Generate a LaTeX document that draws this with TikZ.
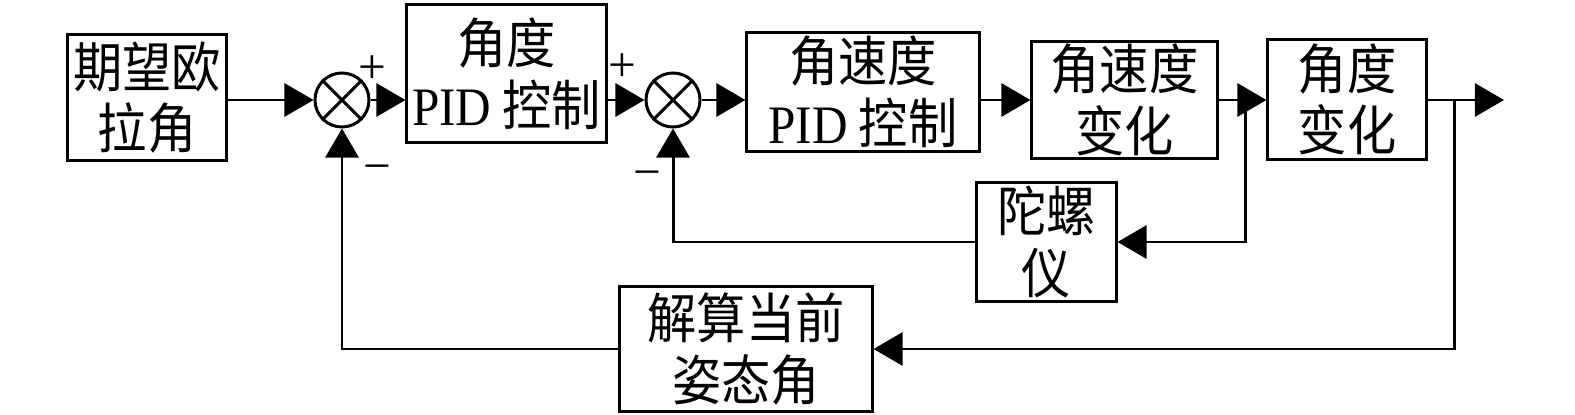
\documentclass[tikz,border=0pt]{standalone}
\usepackage{fontspec}
\usepackage{graphicx}
\setmainfont{Liberation Serif}
\newfontfamily\cjk{Noto Sans CJK SC}
\newcommand{\stz}[1]{\scalebox{1}[1.1]{#1}}
\usetikzlibrary{arrows.meta}
\begin{document}
\begin{tikzpicture}[x=0.01cm,y=-0.01cm, line width=0.85pt,
 box/.style={draw, inner sep=0pt, align=center, font=\fontsize{14pt}{17.5pt}\selectfont\cjk},
 sumnode/.style={draw, circle, minimum size=0.54cm, inner sep=0pt},
 arr/.style={-{Triangle[length=2.9mm,width=3.3mm]}},
 sign/.style={inner sep=0pt, font=\fontsize{14pt}{14pt}\selectfont}]
\useasboundingbox (0,0) rectangle (1575,415);
\node[box, minimum width=1.58cm, minimum height=1.25cm] (A) at (147,97.5) {\stz{期望欧}\\\stz{拉角}};
\node[sumnode] (s1) at (342,100) {};
\node[box, minimum width=1.99cm, minimum height=1.37cm] (B) at (506.5,73.5) {\stz{角度}\\\stz{{\rmfamily PID} 控制}};
\node[sumnode] (s2) at (673,100) {};
\node[box, minimum width=2.32cm, minimum height=1.18cm] (C) at (863,92) {\stz{角速度}\\\stz{{\rmfamily PID} 控制}};
\node[box, minimum width=1.85cm, minimum height=1.16cm] (D) at (1124.5,100) {\stz{角速度}\\\stz{变化}};
\node[box, minimum width=1.58cm, minimum height=1.19cm] (E) at (1347,99.5) {\stz{角度}\\\stz{变化}};
\node[box, minimum width=1.39cm, minimum height=1.18cm] (G) at (1046.5,242) {\stz{陀螺}\\\stz{仪}};
\node[box, minimum width=2.52cm, minimum height=1.24cm] (F) at (746,349) {\stz{解算当前}\\\stz{姿态角}};
\foreach \s in {s1,s2}{
  \draw (\s.45) -- (\s.225);
  \draw (\s.135) -- (\s.315);
}
\coordinate (br1) at (1245,100);
\coordinate (br2) at (1454,100);
\coordinate (out) at (1504,100);
\draw[arr] (A.east |- s1) -- (s1.west);
\draw[arr] (s1.east) -- (s1.east -| B.west);
\draw[arr] (B.east |- s2) -- (s2.west);
\draw[arr] (s2.east) -- (s2.east -| C.west);
\draw[arr] (C.east |- s2) -- (s2 -| D.west);
\draw[arr] (D.east |- s2) -- (s2 -| E.west);
\draw[arr] (E.east |- s2) -- (out);
\draw[arr] (br1) |- (G.east);
\draw[arr] (G.west) -| (s2.south);
\draw[arr] (br2) |- (F.east);
\draw[arr] (F.west) -| (s1.south);
\node[sign] (p1) at (372,70) {+};
\node[sign] (m1) at (377,174) {−};
\node[sign] (p2) at (622,68) {+};
\node[sign] (m2) at (647,180) {−};
\end{tikzpicture}
\end{document}
